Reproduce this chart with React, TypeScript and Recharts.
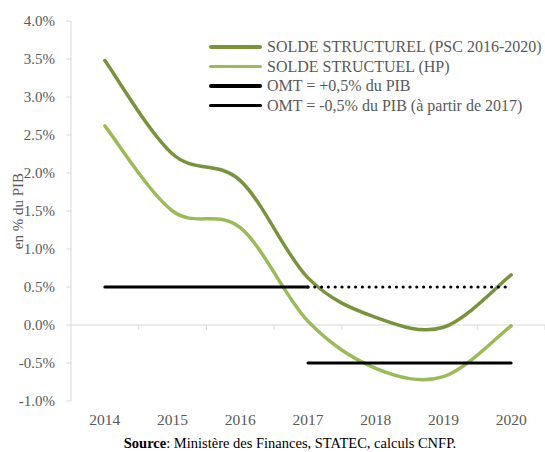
import React from 'react';
import { LineChart, Line, XAxis, YAxis, ReferenceLine } from 'recharts';

const years = ['2014', '2015', '2016', '2017', '2018', '2019', '2020'];
const soldePSC = [3.48, 2.25, 1.9, 0.62, 0.1, -0.03, 0.66];
const soldeHP = [2.62, 1.5, 1.28, 0.05, -0.57, -0.68, -0.01];
const omtPlus: (number | null)[] = [0.5, 0.5, 0.5, 0.5, null, null, null];
const omtPlusDotted: (number | null)[] = [null, null, null, 0.5, 0.5, 0.5, 0.5];
const omtMinus: (number | null)[] = [null, null, null, -0.5, -0.5, -0.5, -0.5];
const yTicks = [-1, -0.5, 0, 0.5, 1, 1.5, 2, 2.5, 3, 3.5, 4];

const legendLabels = [
  'SOLDE STRUCTUREL (PSC 2016-2020)',
  'SOLDE STRUCTUEL (HP)',
  'OMT = +0,5% du PIB',
  'OMT = -0,5% du PIB (à partir de 2017)',
];
const DARK = '#77933C';
const LIGHT = '#9BBB59';
const BLACK = '#000000';
const legendColors = [DARK, LIGHT, BLACK, BLACK];

const FONT = 'Liberation Serif, Times New Roman, serif';
const GRAY = '#595959';
const AXIS = '#D9D9D9';

const data = years.map((y, i) => ({
  x: i,
  year: y,
  psc: soldePSC[i],
  hp: soldeHP[i],
  omtPlus: omtPlus[i],
  omtPlusDotted: omtPlusDotted[i],
  omtMinus: omtMinus[i],
}));
const boundaries = years.map((_, i) => i + 0.5);

// Excel-like smoothing (Catmull-Rom via cubic Bezier)
function excelCurve(context: any) {
  let xs: number[] = [];
  let ys: number[] = [];
  return {
    areaStart() {},
    areaEnd() {},
    lineStart() {
      xs = [];
      ys = [];
    },
    lineEnd() {
      const n = xs.length;
      if (n === 0) return;
      context.moveTo(xs[0], ys[0]);
      if (n === 1) {
        context.lineTo(xs[0], ys[0]);
        return;
      }
      const t = 1 / 6;
      for (let i = 0; i < n - 1; i++) {
        const a = Math.max(i - 1, 0);
        const d = Math.min(i + 2, n - 1);
        context.bezierCurveTo(
          xs[i] + (xs[i + 1] - xs[a]) * t,
          ys[i] + (ys[i + 1] - ys[a]) * t,
          xs[i + 1] - (xs[d] - xs[i]) * t,
          ys[i + 1] - (ys[d] - ys[i]) * t,
          xs[i + 1],
          ys[i + 1]
        );
      }
    },
    point(x: number, y: number) {
      xs.push(+x);
      ys.push(+y);
    },
  };
}

const XTick = (props: any) => {
  const { x, y, payload } = props;
  return (
    <text x={x} y={y} dy={24} textAnchor="middle" fill={GRAY} fontSize={15.5} fontFamily={FONT}>
      {years[payload.value]}
    </text>
  );
};

const YLabel = (props: any) => {
  const vb = props.viewBox || { x: 0, y: 0, width: 0, height: 0 };
  const cx = vb.x + 23;
  const cy = vb.y + vb.height / 2;
  return (
    <text
      x={cx}
      y={cy}
      transform={`rotate(-90 ${cx} ${cy})`}
      textAnchor="middle"
      fill={GRAY}
      fontSize={15}
      fontFamily={FONT}
    >
      en % du PIB
    </text>
  );
};

export default function App() {
  return (
    <div style={{ position: 'absolute', left: 0, top: 0, width: 545, height: 452, background: '#fff', overflow: 'hidden' }}>
      <LineChart
        width={545}
        height={452}
        data={data}
        margin={{ top: 21, right: 0, bottom: 0, left: 0 }}
      >
        <XAxis
          dataKey="x"
          type="number"
          domain={[-0.5, 6.5]}
          ticks={[0, 1, 2, 3, 4, 5, 6]}
          axisLine={false}
          tickLine={false}
          tickSize={0}
          tickMargin={0}
          tick={<XTick />}
          interval={0}
          height={51}
        />
        <YAxis
          type="number"
          domain={[-1, 4]}
          ticks={yTicks}
          width={71}
          interval={0}
          axisLine={{ stroke: AXIS }}
          tickLine={{ stroke: AXIS }}
          tickSize={5}
          tickMargin={11}
          tickFormatter={(v: number) => `${v.toFixed(1)}%`}
          tick={{ fill: GRAY, fontSize: 15, fontFamily: FONT }}
          label={<YLabel />}
        />
        <ReferenceLine y={0} stroke={AXIS} strokeWidth={1} />
        {boundaries.map((b) => (
          <ReferenceLine
            key={b}
            segment={[{ x: b, y: 0 }, { x: b, y: -0.066 }]}
            stroke={AXIS}
            strokeWidth={1}
          />
        ))}
        <Line
          dataKey="psc"
          type={excelCurve as any}
          stroke={DARK}
          strokeWidth={3.5}
          strokeLinecap="round"
          dot={false}
          activeDot={false}
          isAnimationActive={false}
        />
        <Line
          dataKey="hp"
          type={excelCurve as any}
          stroke={LIGHT}
          strokeWidth={3.5}
          strokeLinecap="round"
          dot={false}
          activeDot={false}
          isAnimationActive={false}
        />
        <Line
          dataKey="omtPlus"
          type="linear"
          stroke={BLACK}
          strokeWidth={3}
          strokeLinecap="round"
          dot={false}
          activeDot={false}
          isAnimationActive={false}
        />
        <Line
          dataKey="omtPlusDotted"
          type="linear"
          stroke={BLACK}
          strokeWidth={3.2}
          strokeLinecap="round"
          strokeDasharray="0 6.8"
          dot={false}
          activeDot={false}
          isAnimationActive={false}
        />
        <Line
          dataKey="omtMinus"
          type="linear"
          stroke={BLACK}
          strokeWidth={3}
          strokeLinecap="round"
          dot={false}
          activeDot={false}
          isAnimationActive={false}
        />
      </LineChart>
      <div style={{ position: 'absolute', left: 209, top: 37 }}>
        {legendLabels.map((label, i) => (
          <div key={label} style={{ display: 'flex', alignItems: 'center', height: 19.5 }}>
            <div
              style={{
                width: 53,
                height: 3.5,
                borderRadius: 2,
                background: legendColors[i],
                marginRight: 5,
              }}
            />
            <span style={{ fontFamily: FONT, fontSize: 16, color: GRAY, whiteSpace: 'nowrap', lineHeight: '19.5px' }}>
              {label}
            </span>
          </div>
        ))}
      </div>
      <div
        style={{
          position: 'absolute',
          left: 0,
          width: 580,
          top: 436,
          textAlign: 'center',
          fontFamily: FONT,
          fontSize: 14.5,
          lineHeight: '15px',
          color: '#000',
          whiteSpace: 'nowrap',
        }}
      >
        <b>Source</b>: Ministère des Finances, STATEC, calculs CNFP.
      </div>
    </div>
  );
}
